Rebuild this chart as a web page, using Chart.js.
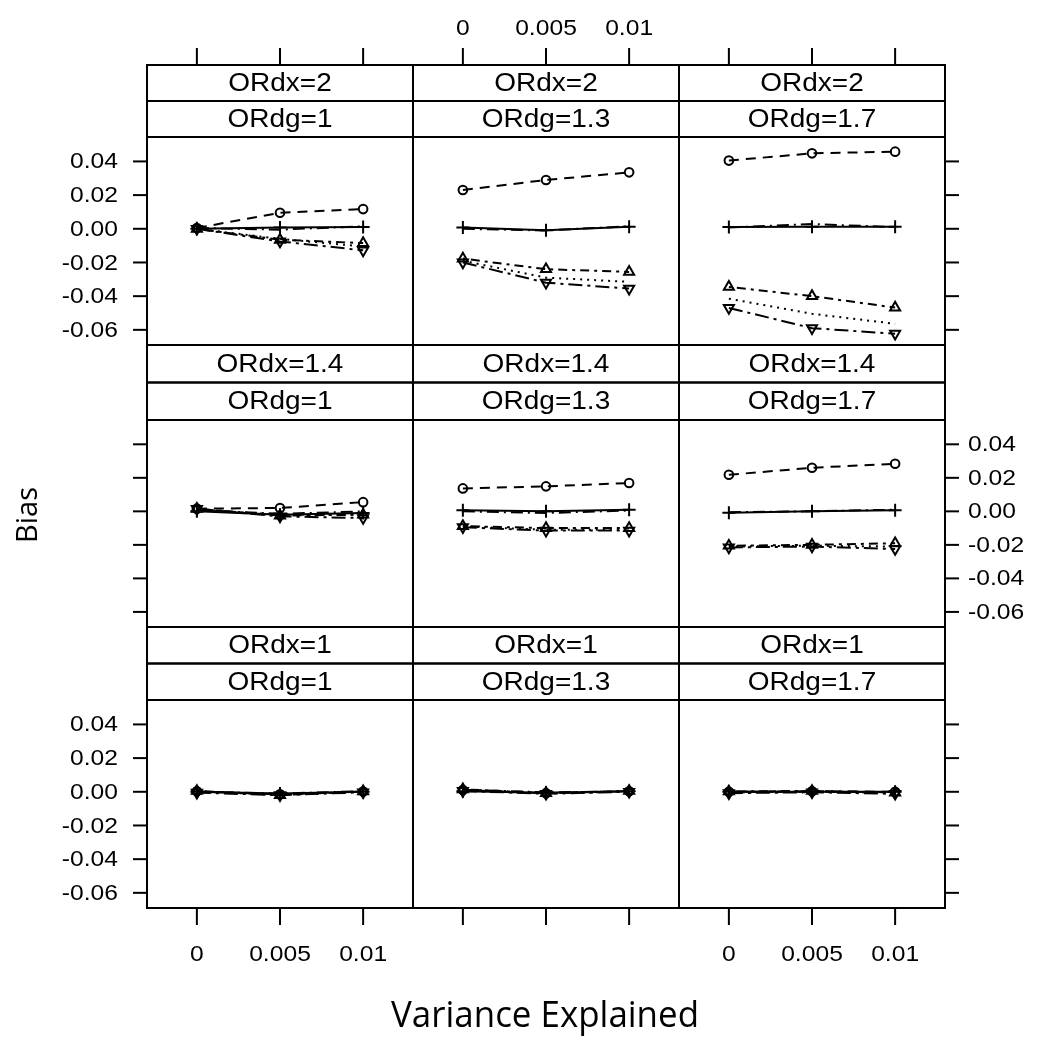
<!DOCTYPE html>
<html>
<head>
<meta charset="utf-8">
<script src="https://cdn.jsdelivr.net/npm/chart.js@4.4.1/dist/chart.umd.min.js"></script>
<style>
  body { margin: 0; background: #fff; }
  #wrap { position: relative; width: 1042px; height: 1050px; background: #fff; }
  #wrap canvas { position: absolute; left: 0; top: 0; }
</style>
</head>
<body>
<div id="wrap"></div>
<script>
// data
var varExplained = [0, 0.005, 0.01];
var xTickLabels = ['0', '0.005', '0.01'];
var yTicks = [-0.06, -0.04, -0.02, 0, 0.02, 0.04];
var yTickLabels = ['-0.06', '-0.04', '-0.02', '0.00', '0.02', '0.04'];
var ordxLabels = ['ORdx=2', 'ORdx=1.4', 'ORdx=1'];
var ordgLabels = ['ORdg=1', 'ORdg=1.3', 'ORdg=1.7'];

// one row of 3 values per panel, panels in reading order
var circleBias = [
  [0.0005, 0.0095, 0.0117], [0.023, 0.029, 0.0335], [0.0405, 0.0448, 0.0458],
  [0.0016, 0.002, 0.0055], [0.0137, 0.0149, 0.0169], [0.0218, 0.026, 0.0284],
  [0.0003, -0.0015, 0.0002], [0.001, -0.0008, 0.0003], [0.0, 0.0003, 0.0]
];
var plusBias = [
  [0.0, 0.0008, 0.001], [0.0008, -0.0008, 0.0012], [0.001, 0.0012, 0.0012],
  [0.0, -0.002, -0.001], [0.0006, 0.0, 0.001], [-0.0008, 0.0, 0.0006],
  [0.0, -0.001, 0.0], [0.0003, -0.0005, 0.0003], [0.0, 0.0, 0.0]
];
var triUpBias = [
  [0.0, -0.0065, -0.0085], [-0.0177, -0.024, -0.0256], [-0.0345, -0.040, -0.0468],
  [0.0015, -0.0025, -0.002], [-0.0088, -0.010, -0.010], [-0.0205, -0.020, -0.019],
  [0.0005, -0.002, 0.0003], [0.0015, -0.0008, 0.0005], [0.0002, 0.0005, -0.0005]
];
var triDownBias = [
  [0.0, -0.0075, -0.0128], [-0.020, -0.032, -0.0355], [-0.047, -0.059, -0.0623],
  [0.0015, -0.003, -0.004], [-0.0095, -0.0115, -0.0115], [-0.0215, -0.021, -0.0225],
  [-0.0005, -0.002, -0.0003], [0.0005, -0.0012, 0.0], [-0.0008, -0.0003, -0.0012]
];
var dottedBias = [
  [0.0, -0.006, -0.0105], [-0.019, -0.029, -0.0315], [-0.0415, -0.0505, -0.0564],
  [0.001, -0.002, -0.002], [-0.009, -0.011, -0.011], [-0.021, -0.0205, -0.021],
  [0.0, -0.0015, 0.0], [0.0008, -0.001, 0.0002], [-0.0003, 0.0, -0.0005]
];
var dashDotBias = [
  [0.0005, -0.0005, 0.0015], [0.0, -0.001, 0.0015], [0.0008, 0.0028, 0.001],
  [0.0008, -0.0015, 0.0], [0.0, -0.001, 0.0005], [-0.0005, 0.0, 0.001],
  [0.0, -0.001, 0.0003], [0.0012, -0.0003, 0.0002], [0.0, 0.0002, -0.0003]
];

var series = [
  { values: dottedBias, dash: [2, 5], style: 'circle', radius: 0, rot: 0 },
  { values: dashDotBias, dash: [12, 5, 2, 5], style: 'circle', radius: 0, rot: 0 },
  { values: triDownBias, dash: [14, 5, 3, 5], style: 'triangle', radius: 5.8, rot: 180 },
  { values: triUpBias, dash: [3, 5, 9, 5], style: 'triangle', radius: 5.8, rot: 0 },
  { values: plusBias, dash: [], style: 'cross', radius: 6.5, rot: 0 },
  { values: circleBias, dash: [10, 7], style: 'circle', radius: 4.3, rot: 0 }
];

// layout of the lattice (page pixels)
var colX = [[147, 413], [413, 679], [679, 945]];
var rowY = [[137, 345], [420, 627], [700, 908]];
var stripTop = [65, 345, 627];
var W = 1042, H = 1050;
var tickFont = '22px "Liberation Sans", Arial, sans-serif';
var stripFont = '25px "Liberation Sans", Arial, sans-serif';

function wideText(ctx, text, x, y, align, sx) {
  ctx.save();
  ctx.translate(x, y);
  ctx.scale(sx || 1.12, 1);
  ctx.textAlign = align;
  ctx.textBaseline = 'middle';
  ctx.fillText(text, 0, 0);
  ctx.restore();
}

var panelDeco = {
  id: 'panelDeco',
  afterDraw: function(chart) {
    var o = chart.options.plugins.panelDeco;
    var r = o.row, c = o.col;
    var ctx = chart.ctx;
    var a = chart.chartArea;
    var xs = chart.scales.x, ys = chart.scales.y;
    ctx.save();
    ctx.strokeStyle = '#000';
    ctx.fillStyle = '#000';
    ctx.lineWidth = 2;

    // panel frame
    ctx.strokeRect(a.left, a.top, a.right - a.left, a.bottom - a.top);

    // strips
    var sTop = stripTop[r];
    var sh = (a.top - sTop) / 2;
    ctx.strokeRect(a.left, sTop, a.right - a.left, sh);
    ctx.strokeRect(a.left, sTop + sh, a.right - a.left, sh);
    ctx.font = stripFont;
    var cx = (a.left + a.right) / 2;
    wideText(ctx, ordxLabels[r], cx, sTop + sh / 2 + 1, 'center');
    wideText(ctx, ordgLabels[c], cx, sTop + sh * 1.5 + 1, 'center');

    ctx.font = tickFont;
    ctx.lineWidth = 2;
    // y ticks, left side
    if (c === 0) {
      yTicks.forEach(function(v, i) {
        var py = ys.getPixelForValue(v);
        ctx.beginPath(); ctx.moveTo(a.left - 14, py); ctx.lineTo(a.left, py); ctx.stroke();
        if (r !== 1) wideText(ctx, yTickLabels[i], a.left - 29, py + 1, 'right');
      });
    }
    // y ticks, right side
    if (c === 2) {
      yTicks.forEach(function(v, i) {
        var py = ys.getPixelForValue(v);
        ctx.beginPath(); ctx.moveTo(a.right, py); ctx.lineTo(a.right + 14, py); ctx.stroke();
        if (r === 1) wideText(ctx, yTickLabels[i], a.right + 23, py + 1, 'left');
      });
    }
    // x ticks on top, above the strips
    if (r === 0) {
      varExplained.forEach(function(v, i) {
        var px = xs.getPixelForValue(v);
        ctx.beginPath(); ctx.moveTo(px, sTop - 17); ctx.lineTo(px, sTop); ctx.stroke();
        if (c === 1) wideText(ctx, xTickLabels[i], px, 29, 'center');
      });
    }
    // x ticks at the bottom
    if (r === 2) {
      varExplained.forEach(function(v, i) {
        var px = xs.getPixelForValue(v);
        ctx.beginPath(); ctx.moveTo(px, a.bottom); ctx.lineTo(px, a.bottom + 17); ctx.stroke();
        if (c !== 1) wideText(ctx, xTickLabels[i], px, 955, 'center');
      });
    }

    // axis titles, once
    if (r === 0 && c === 0) {
      ctx.font = '37px "Open Sans", "Noto Sans", sans-serif';
      var t = 'Variance Explained';
      var sx = 308 / ctx.measureText(t).width;
      wideText(ctx, t, 545, 1016, 'center', sx);
      ctx.save();
      ctx.translate(29, 515);
      ctx.rotate(-Math.PI / 2);
      ctx.font = '29px "Open Sans", "Noto Sans", sans-serif';
      ctx.textAlign = 'center';
      ctx.textBaseline = 'middle';
      ctx.fillText('Bias', 0, 0);
      ctx.restore();
    }
    ctx.restore();
  }
};

var wrap = document.getElementById('wrap');
for (var r = 0; r < 3; r++) {
  for (var c = 0; c < 3; c++) {
    var idx = r * 3 + c;
    var cv = document.createElement('canvas');
    cv.width = W; cv.height = H;
    cv.style.width = W + 'px'; cv.style.height = H + 'px';
    wrap.appendChild(cv);

    var datasets = series.map(function(s) {
      return {
        data: varExplained.map(function(x, i) { return { x: x, y: s.values[idx][i] }; }),
        borderColor: '#000',
        borderWidth: 2,
        borderDash: s.dash,
        pointStyle: s.style,
        pointRotation: s.rot,
        pointRadius: s.radius,
        pointBorderColor: '#000',
        pointBackgroundColor: 'rgba(0,0,0,0)',
        pointBorderWidth: 2,
        tension: 0,
        fill: false
      };
    });

    new Chart(cv.getContext('2d'), {
      type: 'line',
      data: { datasets: datasets },
      options: {
        responsive: false,
        animation: false,
        devicePixelRatio: 1,
        layout: {
          padding: { left: colX[c][0], right: W - colX[c][1], top: rowY[r][0], bottom: H - rowY[r][1] }
        },
        scales: {
          x: { type: 'linear', min: -0.003, max: 0.013, display: false },
          y: { type: 'linear', min: -0.069, max: 0.0545, display: false }
        },
        plugins: {
          legend: { display: false },
          tooltip: { enabled: false },
          panelDeco: { row: r, col: c }
        }
      },
      plugins: [panelDeco]
    });
  }
}
</script>
</body>
</html>
